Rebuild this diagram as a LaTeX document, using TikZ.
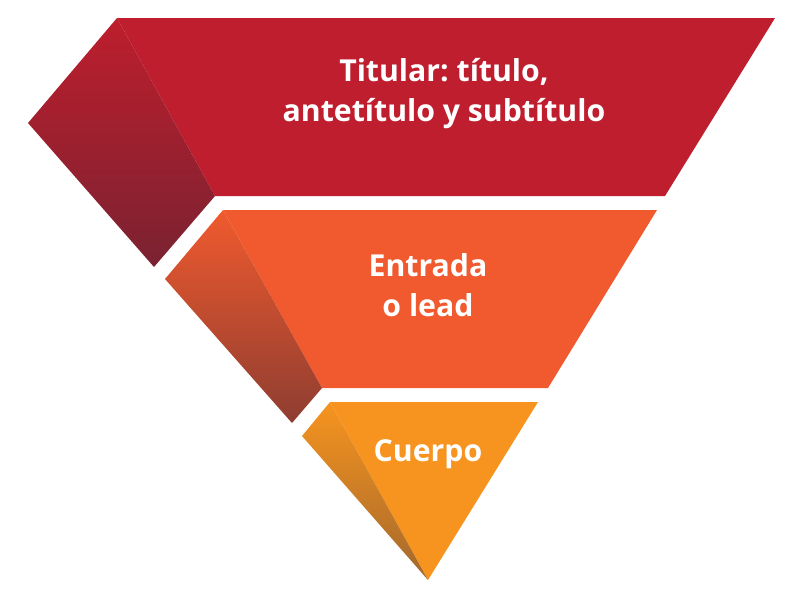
\documentclass[tikz,border=0pt]{standalone}
\usepackage{fontspec}
\setmainfont{Open Sans}
\frenchspacing
\definecolor{titcol}{HTML}{BE1E2D}
\definecolor{titdark}{HTML}{7A2231}
\definecolor{entcol}{HTML}{F05A2E}
\definecolor{entdark}{HTML}{8E3D31}
\definecolor{cuecol}{HTML}{F7941F}
\definecolor{cuedark}{HTML}{A3682C}
\begin{document}
\begin{tikzpicture}[x=0.025cm, y=-0.025cm, band/.style={fill=#1col}, side/.style={top color=#1col, bottom color=#1dark}, label/.style={text=white, font=\bfseries\fontsize{21.5}{28.5}\selectfont, align=center}]
       \useasboundingbox (0,0) rectangle (800,600);
       % titular
       \path[band=tit] (117,18) -- (775,18) -- (665,196) -- (215,196) -- cycle;
       \path[side=tit] (117,18) -- (28,123) -- (154,267) -- (215,196) -- cycle;
       % entrada
       \path[band=ent] (223,210) -- (657,210) -- (548,388) -- (322,388) -- cycle;
       \path[side=ent] (223,210) -- (165,279) -- (292,423) -- (322,388) -- cycle;
       % cuerpo
       \path[band=cue] (330,402) -- (538,402) -- (428,580) -- cycle;
       \path[side=cue] (330,402) -- (302,436) -- (428,580) -- cycle;

       \node[label] (tit) at (444,94) {Titular: título,\\antetítulo y subtítulo};
       \node[label] (ent) at (428,285) {Entrada\\o lead};
       \node[label] (cue) at (428,454) {Cuerpo};
     \end{tikzpicture}
\end{document}
